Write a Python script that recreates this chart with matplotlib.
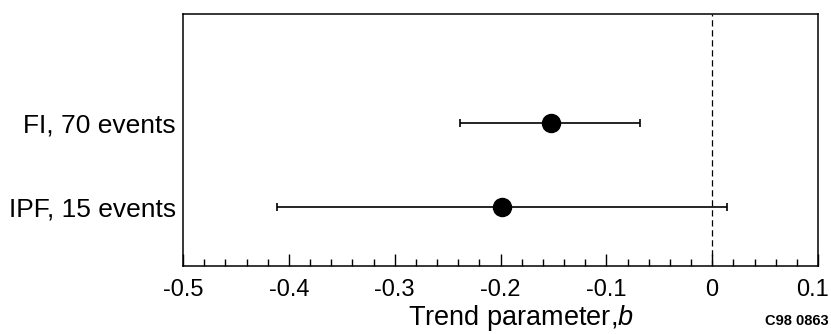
import matplotlib
matplotlib.use("Agg")
import matplotlib.pyplot as plt
from matplotlib.ticker import MultipleLocator
from matplotlib.transforms import ScaledTranslation

categories = ["IPF, 15 events", "FI, 70 events"]
estimates = [-0.199, -0.152]
lower = [-0.411, -0.238]
upper = [0.014, -0.068]
xticks = [-0.5, -0.4, -0.3, -0.2, -0.1, 0, 0.1]
xticklabels = ["-0.5", "-0.4", "-0.3", "-0.2", "-0.1", "0", "0.1"]

plt.rcParams['font.family'] = ['Liberation Sans', 'DejaVu Sans']
plt.rcParams['mathtext.fontset'] = 'custom'
plt.rcParams['mathtext.it'] = 'Liberation Sans:italic'
plt.rcParams['mathtext.rm'] = 'Liberation Sans'

fig = plt.figure(figsize=(8.31, 3.34), dpi=100)
ax = fig.add_axes([183/831, 68/334, 635/831, 252/334])

ypos = list(range(1, len(categories) + 1))
xerr = [[e - l for e, l in zip(estimates, lower)], [u - e for e, u in zip(estimates, upper)]]
ax.errorbar(estimates, ypos, xerr=xerr, fmt='o', color='black', ecolor='black',
            elinewidth=1.2, capsize=3, capthick=1.2, markersize=13, zorder=3)
ax.axvline(0, color='black', linestyle=(0, (5, 3)), linewidth=0.9, zorder=1)

ax.set_xlim(-0.5, 0.1)
ax.set_ylim(0.298, 3.298)
ax.set_xticks(xticks)
ax.set_xticklabels(xticklabels, fontsize=17)
ax.xaxis.set_minor_locator(MultipleLocator(0.02))
ax.tick_params(axis='x', which='major', direction='in', length=9, width=1, pad=9)
ax.tick_params(axis='x', which='minor', direction='in', length=5, width=1)
ax.set_yticks(ypos)
ax.set_yticklabels(categories, fontsize=19)
ax.tick_params(axis='y', length=0, pad=5)
for s in ax.spines.values():
    s.set_linewidth(1.1)

# nudge the last tick label so it stays inside the figure
last = ax.get_xticklabels()[-1]
last.set_transform(last.get_transform() + ScaledTranslation(-6/100, 0, fig.dpi_scale_trans))

fig.text(521/831, 1 - 318/334, "Trend parameter,$b$", fontsize=19.5, ha='center', va='center')
fig.text(829/831, 1 - 321/334, "C98 0863", fontsize=10.5, ha='right', va='center', fontweight='bold')

fig.savefig("out.png", dpi=100)
